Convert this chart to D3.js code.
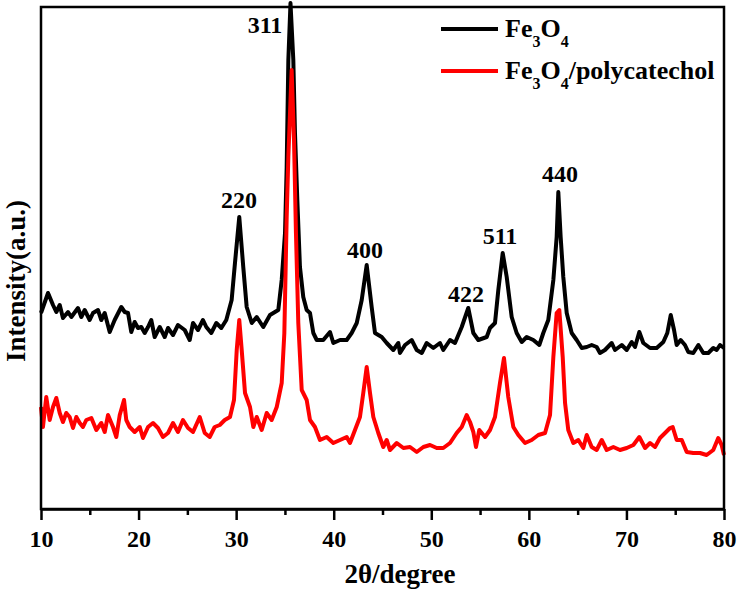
<!DOCTYPE html>
<html>
<head>
<meta charset="utf-8">
<script src="https://cdn.jsdelivr.net/npm/d3@7"></script>
<style>
  body { margin: 0; background: #fff; }
  svg text { font-family: "Liberation Serif", "Times New Roman", Tinos, "DejaVu Serif", serif; font-weight: bold; fill: #000; }
</style>
</head>
<body>
<svg width="741" height="594"></svg>
<script>
// 2theta (degree) and intensity (a.u.)
var fe3o4Angle = [10.00,10.72,11.23,11.57,11.92,12.25,12.77,13.11,13.79,14.13,14.48,14.99,15.33,15.84,16.18,16.53,17.04,17.55,18.23,18.58,18.92,19.25,19.60,19.94,20.28,20.63,20.97,21.30,21.65,22.17,22.68,23.02,23.53,24.04,24.73,25.24,25.58,26.09,26.60,26.94,27.45,27.97,28.48,28.99,29.54,29.88,30.32,30.73,31.08,31.60,32.11,32.78,33.47,34.32,34.67,35.01,35.18,35.35,35.57,35.86,36.03,36.27,36.54,36.88,37.23,37.57,37.91,38.26,38.93,39.62,39.96,40.65,41.33,41.84,42.36,42.87,43.38,43.89,44.23,44.92,45.43,46.11,46.62,46.79,47.31,47.99,48.51,49.02,49.53,50.21,50.89,51.23,51.92,52.43,53.12,53.79,54.31,54.82,55.68,56.02,56.53,56.87,57.32,57.73,58.24,58.75,59.27,59.78,60.46,61.07,61.48,61.99,62.51,62.85,63.02,63.26,63.53,63.88,64.39,64.90,65.42,65.93,66.44,66.95,67.29,67.80,68.49,68.83,69.52,70.03,70.54,70.88,71.32,71.73,72.42,73.10,73.78,74.19,74.54,74.88,75.15,75.56,76.00,76.34,76.85,77.37,77.88,78.39,78.90,79.25,79.59,80.00];
var fe3o4Int = [196,216,204,197,204,191,197,192,201,192,199,189,196,199,189,196,177,189,202,197,196,177,187,181,182,176,182,189,172,182,172,181,174,184,179,169,186,179,189,182,176,186,181,189,209,246,292,242,202,186,192,182,194,199,229,276,342,449,506,449,376,309,242,212,199,196,176,169,169,177,166,169,169,176,186,209,244,202,176,172,166,159,166,156,164,169,159,156,166,161,166,159,169,166,182,201,176,169,172,181,186,219,256,232,192,176,167,172,169,164,176,189,229,272,317,272,232,196,176,169,161,162,164,162,156,159,166,159,164,159,167,162,177,166,161,161,167,176,194,179,164,169,164,157,156,164,156,156,161,159,164,161];

var compAngle = [10.00,10.20,10.54,10.89,11.23,11.57,11.92,12.25,12.59,12.94,13.28,13.62,13.97,14.30,14.64,15.16,15.67,16.18,16.53,16.87,17.38,17.72,18.07,18.51,18.74,19.09,19.60,20.12,20.45,20.97,21.48,21.99,22.50,23.02,23.53,24.04,24.55,25.07,25.58,26.27,26.78,27.29,27.80,28.32,28.83,29.37,29.78,30.06,30.32,30.57,30.91,31.42,31.76,32.11,32.62,33.13,33.64,34.16,34.67,34.94,35.18,35.35,35.69,35.93,36.13,36.37,36.72,37.23,37.57,38.08,38.59,39.28,39.96,40.65,41.33,41.67,42.18,42.69,43.03,43.38,43.72,44.06,44.57,45.08,45.43,45.77,46.46,47.14,47.82,48.51,49.19,49.87,50.56,51.23,51.92,52.60,53.12,53.63,53.97,54.31,54.58,54.92,55.51,56.02,56.53,57.04,57.45,57.89,58.41,58.92,59.61,60.29,60.97,61.66,62.17,62.51,62.85,63.12,63.47,63.71,64.04,64.56,65.07,65.58,65.93,66.44,66.95,67.47,67.98,68.66,69.34,70.03,70.71,71.32,71.91,72.42,72.93,73.44,73.96,74.47,74.74,75.15,75.67,76.18,76.85,77.54,78.22,78.90,79.41,79.76,80.00];
var compInt = [102,82,112,89,102,111,96,87,96,92,81,92,86,82,89,91,79,86,77,94,82,72,94,109,89,82,77,82,71,82,86,81,72,76,86,77,89,81,77,92,76,72,82,84,89,92,109,159,189,159,116,102,82,92,79,96,89,102,126,176,292,352,439,369,276,186,119,109,89,82,69,72,66,69,72,66,79,92,116,142,116,92,76,62,69,59,66,61,62,57,62,64,61,61,66,76,82,94,87,77,62,79,72,79,92,126,151,112,82,74,66,69,74,76,94,152,196,199,152,106,79,66,69,61,74,62,59,69,59,62,59,61,64,72,61,66,62,71,76,81,82,69,69,57,56,56,54,59,71,64,54];

var seriesNames = ["Fe3O4", "Fe3O4/polycatechol"];
var seriesColors = ["#000000", "#ff0000"];

// hkl labels: centre angle and baseline level of each label
var peakHkl = ["220", "311", "400", "422", "511", "440"];
var peakLabelAngle = [30.29, 32.96, 43.21, 53.56, 57.04, 63.19];
var peakLabelLevel = [301, 476, 251, 207, 265, 327];

var xTicks = [10, 20, 30, 40, 50, 60, 70, 80];
var xMinorTicks = [15, 25, 35, 45, 55, 65, 75];

var svg = d3.select("svg"),
  plotLeft = 41, plotRight = 724, plotTop = 7, plotBottom = 509;

var x = d3.scaleLinear().domain([10, 80]).range([plotLeft, plotRight]);
var y = d3.scaleLinear().domain([0, 502]).range([plotBottom, plotTop]);

var line = d3.line()
  .x(function(d) { return x(d[0]); })
  .y(function(d) { return y(d[1]); });

var series = [
  d3.zip(fe3o4Angle, fe3o4Int),
  d3.zip(compAngle, compInt)
];

// curves
svg.selectAll("path.curve")
  .data(series)
  .enter()
  .append("path")
  .attr("class", "curve")
  .attr("fill", "none")
  .attr("stroke", function(d, i) { return seriesColors[i]; })
  .attr("stroke-width", 4)
  .attr("stroke-linejoin", "round")
  .attr("d", line);

// frame
svg.append("rect")
  .attr("x", plotLeft)
  .attr("y", plotTop)
  .attr("width", plotRight - plotLeft)
  .attr("height", plotBottom - plotTop)
  .attr("fill", "none")
  .attr("stroke", "#000")
  .attr("stroke-width", 2.5);

// bottom axis, major ticks
var xAxis = svg.append("g")
  .attr("transform", "translate(0," + plotBottom + ")")
  .call(d3.axisBottom(x).tickValues(xTicks).tickSize(11).tickSizeOuter(0).tickPadding(10));
xAxis.select(".domain").attr("stroke-width", 2.5);
xAxis.selectAll("line").attr("stroke-width", 2.5);
xAxis.selectAll("text").attr("font-size", 24);

// minor ticks
svg.append("g")
  .attr("transform", "translate(0," + plotBottom + ")")
  .call(d3.axisBottom(x).tickValues(xMinorTicks).tickSize(6).tickSizeOuter(0).tickFormat(""))
  .call(function(g) { g.select(".domain").remove(); })
  .selectAll("line").attr("stroke-width", 2.5);

// axis titles
svg.append("text")
  .attr("x", 400)
  .attr("y", 583)
  .attr("text-anchor", "middle")
  .attr("font-size", 27)
  .text("2θ/degree");

svg.append("text")
  .attr("transform", "translate(25,281) rotate(-90)")
  .attr("text-anchor", "middle")
  .attr("font-size", 27)
  .text("Intensity(a.u.)");

// peak labels
svg.selectAll("text.hkl")
  .data(peakHkl)
  .enter()
  .append("text")
  .attr("class", "hkl")
  .attr("x", function(d, i) { return x(peakLabelAngle[i]); })
  .attr("y", function(d, i) { return y(peakLabelLevel[i]); })
  .attr("text-anchor", "middle")
  .attr("font-size", 24)
  .text(function(d) { return d; });

// legend
var legend = svg.selectAll("g.legend")
  .data(seriesNames)
  .enter()
  .append("g")
  .attr("class", "legend")
  .attr("transform", function(d, i) { return "translate(441," + (29 + i * 42) + ")"; });

legend.append("line")
  .attr("x1", 0)
  .attr("x2", 57)
  .attr("stroke", function(d, i) { return seriesColors[i]; })
  .attr("stroke-width", 4);

legend.append("text")
  .attr("x", 64)
  .attr("y", 8)
  .attr("font-size", 26)
  .each(function(d) {
    var t = d3.select(this), shift = 0;
    // digits of the formula become subscripts
    d.split(/(\d)/).forEach(function(part) {
      if (part === "") return;
      if (/\d/.test(part)) {
        t.append("tspan").attr("font-size", 16).attr("dy", 10 - shift).text(part);
        shift = 10;
      } else {
        t.append("tspan").attr("dy", -shift).text(part);
        shift = 0;
      }
    });
  });
</script>
</body>
</html>
